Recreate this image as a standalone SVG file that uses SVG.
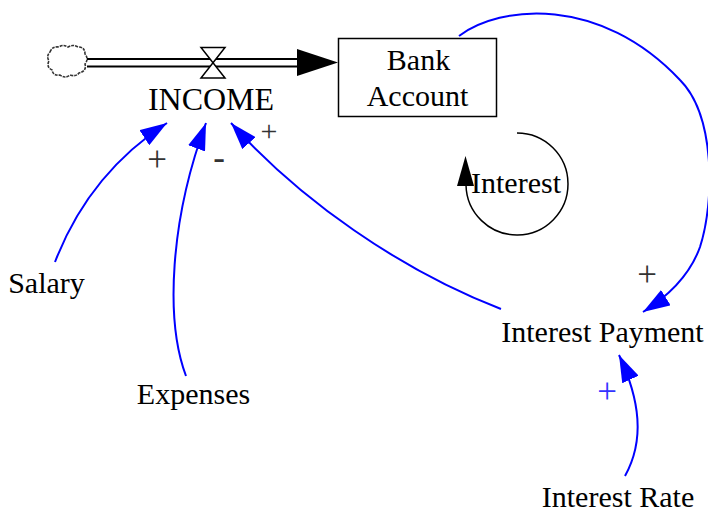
<svg xmlns="http://www.w3.org/2000/svg" width="708" height="514" viewBox="0 0 708 514">
<defs>
<style>
text{font-family:"Liberation Serif","Times New Roman",serif;font-size:30px;fill:#000;text-anchor:middle}
.pol{font-size:35px;fill:#333}
.link{fill:none;stroke:#0000ff;stroke-width:2}
</style>
<marker id="abl" viewBox="0 0 10 10" refX="10" refY="5" markerWidth="27" markerHeight="18" markerUnits="userSpaceOnUse" orient="auto" preserveAspectRatio="none"><path d="M0,0 L10,5 L0,10 z" fill="#0000ff"/></marker>
</defs>
<g id="cloud">
<path d="M50,52 q2,-6 9,-5 q4,-3 9,0 q5,-3 10,0 q7,0 7,7 q4,5 0,10 q2,7 -6,9 q-3,4 -9,2 q-5,4 -10,0 q-7,1 -8,-5 q-6,-3 -3,-9 q-3,-5 1,-9 z" fill="#fff" stroke="#333" stroke-width="1.6" stroke-dasharray="3,1"/>
</g>
<g id="flow-income">
<line x1="87" y1="59" x2="300" y2="59" stroke="#000" stroke-width="2"/>
<line x1="87" y1="66.5" x2="300" y2="66.5" stroke="#000" stroke-width="2"/>
<path d="M297,49 L338,62.5 L297,76 z" fill="#000"/>
<path d="M201,47.5 L225,47.5 L201,78 L225,78 z" fill="#fff" stroke="#000" stroke-width="1.5"/>
<text x="211" y="110" style="font-size:32px">INCOME</text>
</g>
<g id="bank-account">
<rect x="338.5" y="38.5" width="158" height="78" fill="#fff" stroke="#000" stroke-width="1.5"/>
<text x="418.5" y="70">Bank</text>
<text x="417.5" y="106">Account</text>
</g>
<g id="loop-interest">
<path d="M517,133 A51,51 0 1 1 466,185" fill="none" stroke="#000" stroke-width="1.5"/>
<path d="M465.5,156 L474,186 L457,186 z" fill="#000"/>
<text x="516" y="193">Interest</text>
</g>
<g id="salary"><text x="46.5" y="293">Salary</text></g>
<g id="expenses"><text x="193.5" y="404">Expenses</text></g>
<g id="interest-payment"><text x="602.5" y="342">Interest Payment</text></g>
<g id="interest-rate"><text x="618" y="507">Interest Rate</text></g>
<g id="connectors">
<path class="link" d="M459,36 C500,5 600,-5 680,80 C715,115 715,200 700,247 C690,275 670,295 643,312" marker-end="url(#abl)"/>
<path class="link" d="M55,262 C75,210 110,160 167,123" marker-end="url(#abl)"/>
<path class="link" d="M186,376 C165,320 170,220 206,123" marker-end="url(#abl)"/>
<path class="link" d="M501,309 C400,270 300,200 231,123" marker-end="url(#abl)"/>
<path class="link" d="M625,476 C645,440 640,400 619,355" marker-end="url(#abl)"/>
<text class="pol" x="157" y="170.5">+</text>
<text class="pol" x="219" y="168.5">-</text>
<text class="pol" x="269" y="141" style="font-size:30px">+</text>
<text class="pol" x="647" y="285.5">+</text>
<text class="pol" x="607" y="402.5" style="fill:#3333ff">+</text>
</g>
</svg>
